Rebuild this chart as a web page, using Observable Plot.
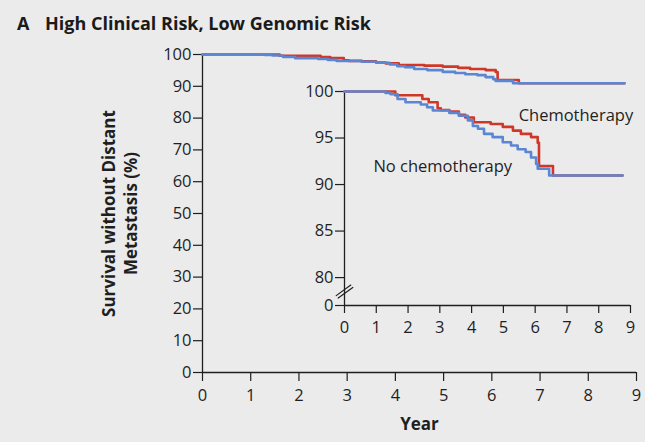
<!DOCTYPE html>
<html>
<head>
<meta charset="utf-8">
<script src="https://cdn.jsdelivr.net/npm/d3@7"></script>
<script src="https://cdn.jsdelivr.net/npm/@observablehq/plot@0.6"></script>
<style>
  html, body { margin: 0; padding: 0; background: #ebebeb; }
  #wrap { position: relative; width: 645px; height: 442px; background: #ebebeb; font-family: "Open Sans", sans-serif; color: #1a1a1a; }
  #title { position: relative; height: 40px; font-size: 18px; font-weight: 700; line-height: 1; }
  #title span { position: absolute; top: 13.5px; }
  #inset { position: absolute; left: 290px; top: 80px; }
  svg { display: block; }
</style>
</head>
<body>
<div id="wrap">
  <div id="title"><span style="left:17px">A</span><span style="left:45px">High Clinical Risk, Low Genomic Risk</span></div>
  <div id="main"></div>
  <div id="inset"></div>
</div>
<script>
// ---- Data ----
const chemoYears = [0, 1.6, 2.45, 2.65, 2.93, 3.03, 3.3, 3.6, 3.8, 4.07, 4.6, 4.98, 5.3, 5.55, 5.87, 6.08, 6.12, 6.56, 8.75];
const chemoSurvival = [100, 99.6, 99.2, 98.85, 98.2, 98.0, 97.85, 97.5, 97.2, 96.7, 96.5, 96.2, 95.8, 95.45, 95.1, 94.5, 92.0, 90.97, 90.97];
const noChemoYears = [0, 1.29, 1.45, 1.67, 1.92, 2.4, 2.6, 2.78, 3.3, 3.6, 3.88, 4.04, 4.2, 4.39, 4.66, 4.98, 5.24, 5.45, 5.7, 5.87, 6.03, 6.08, 6.44, 8.75];
const noChemoSurvival = [100, 99.85, 99.7, 99.2, 98.85, 98.6, 98.3, 97.96, 97.7, 97.4, 96.9, 96.3, 96.0, 95.45, 95.1, 94.55, 94.2, 93.8, 93.5, 92.9, 92.2, 91.7, 90.97, 90.97];

const seriesNames = ["Chemotherapy", "No chemotherapy"];
const seriesColors = ["#cf3828", "#5b86d4"];

const mainXTicks = [0, 1, 2, 3, 4, 5, 6, 7, 8, 9];
const mainYTicks = [0, 10, 20, 30, 40, 50, 60, 70, 80, 90, 100];
const insetXTicks = [0, 1, 2, 3, 4, 5, 6, 7, 8, 9];
const insetYTicks = [80, 85, 90, 95, 100];
// broken inset axis: the origin "0" is drawn just below 80, at this position
const insetZeroAt = 77;

const xTitle = "Year";
const yTitle = "Survival without Distant\nMetastasis (%)";

// inset annotation anchors (data space)
const labelYears = [5.48, 0.91];
const labelSurvival = [97.4, 91.9];
const axisBreakValue = 78.5;

// ---- Build tables ----
const chemo = chemoYears.map((t, i) => ({t, s: chemoSurvival[i], g: seriesNames[0]}));
const noChemo = noChemoYears.map((t, i) => ({t, s: noChemoSurvival[i], g: seriesNames[1]}));
const labels = seriesNames.map((name, i) => ({name, t: labelYears[i], s: labelSurvival[i]}));

const ink = "#1f1f1f";
const font = "'Open Sans', sans-serif";

// ---- Main chart ----
const main = Plot.plot({
  width: 645,
  height: 402,
  marginTop: 14,
  marginBottom: 70,
  marginLeft: 202,
  marginRight: 9,
  style: {background: "transparent", fontFamily: font, fontSize: "16.5px", color: ink, overflow: "visible"},
  x: {domain: [0, 9]},
  y: {domain: [0, 100]},
  marks: [
    Plot.axisY({ticks: mainYTicks, tickSize: 9, tickPadding: 2, label: null, strokeWidth: 1.2}),
    Plot.axisX({ticks: mainXTicks, tickSize: 9, tickPadding: 8, label: null, strokeWidth: 1.2}),
    Plot.ruleX([0], {stroke: ink, strokeWidth: 1.3}),
    Plot.ruleY([0], {stroke: ink, strokeWidth: 1.3}),
    Plot.line(chemo, {x: "t", y: "s", curve: "step-after", stroke: seriesColors[0], strokeWidth: 2.6}),
    Plot.line(noChemo, {x: "t", y: "s", curve: "step-after", stroke: seriesColors[1], strokeWidth: 2.6}),
    Plot.text([xTitle], {frameAnchor: "bottom", dy: 57, text: d => d, fontWeight: 700, fontSize: 17, fill: ink}),
    Plot.text([yTitle], {frameAnchor: "left", textAnchor: "middle", lineAnchor: "middle", dx: -84, rotate: -90, text: d => d, lineHeight: 1.3, fontWeight: 700, fontSize: 17, fill: ink})
  ]
});
document.getElementById("main").append(main);

// ---- Inset chart ----
const slash = {draw(context, l) { context.moveTo(0, 0); context.lineTo(0, -l); }};
const inset = Plot.plot({
  width: 355,
  height: 262,
  marginTop: 11,
  marginBottom: 37,
  marginLeft: 54,
  marginRight: 15,
  style: {background: "transparent", fontFamily: font, fontSize: "16.5px", color: ink, overflow: "visible"},
  x: {domain: [0, 9]},
  y: {domain: [insetZeroAt, 100]},
  marks: [
    Plot.axisY({ticks: [insetZeroAt, ...insetYTicks], tickFormat: d => d === insetZeroAt ? "0" : String(d), tickSize: 9, tickPadding: 2, label: null, strokeWidth: 1.2}),
    Plot.axisX({ticks: insetXTicks, tickSize: 8, tickPadding: 7.5, label: null, strokeWidth: 1.2}),
    Plot.ruleX([0], {stroke: ink, strokeWidth: 1.3}),
    Plot.ruleY([insetZeroAt], {stroke: ink, strokeWidth: 1.3}),
    Plot.vector([axisBreakValue], {x: () => 0, y: d => d, length: 18, rotate: 54, anchor: "middle", shape: slash, stroke: ink, strokeWidth: 1.2, dx: -1, dy: -1.2}),
    Plot.vector([axisBreakValue], {x: () => 0, y: d => d, length: 18, rotate: 54, anchor: "middle", shape: slash, stroke: ink, strokeWidth: 1.2, dx: 1, dy: 1.2}),
    Plot.line(chemo, {x: "t", y: "s", curve: "step-after", stroke: seriesColors[0], strokeWidth: 2.6}),
    Plot.line(noChemo, {x: "t", y: "s", curve: "step-after", stroke: seriesColors[1], strokeWidth: 2.6}),
    Plot.text(labels, {x: "t", y: "s", text: "name", textAnchor: "start", fill: ink, fontSize: 16.5})
  ]
});
document.getElementById("inset").append(inset);
</script>
</body>
</html>
